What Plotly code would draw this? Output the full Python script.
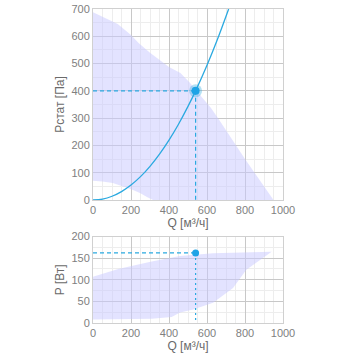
import plotly.graph_objects as go

# ---- data ----
# fan working area (pressure chart)
area_p_upper_q = [0, 50, 130, 200, 240, 300, 400, 460, 510, 560, 620, 660, 800, 950]
area_p_upper_v = [688, 672, 645, 605, 575, 540, 487, 465, 430, 388, 338, 298, 150, 0]
area_p_lower_q = [316, 284, 250, 211, 150, 105, 50, 0]
area_p_lower_v = [0, 11, 25, 37, 52, 62, 68, 71]

# system curve
sys_q = [0, 50, 100, 150, 200, 250, 300, 350, 400, 450, 500, 540, 600, 650, 714]
sys_p = [0, 3.4, 13.7, 30.9, 54.9, 85.7, 123.5, 168.1, 219.5, 277.8, 343.0, 400, 493.8, 579.6, 700]

# fan working area (power chart)
area_w_upper_q = [0, 133, 309, 414, 458, 632, 940]
area_w_upper_v = [107, 125, 142, 150, 155, 161, 165]
area_w_lower_q = [940, 807, 737, 632, 527, 458, 414, 309, 0]
area_w_lower_v = [165, 123, 81, 47, 31, 24, 14, 10, 8]

op_q = 540
op_p = 400
op_w = 162

fill_col = "rgba(200,200,255,0.5)"
blue = "#2aa9e0"

fig = go.Figure()

# top chart
fig.add_trace(go.Scatter(x=area_p_upper_q + area_p_lower_q, y=area_p_upper_v + area_p_lower_v,
                         fill="toself", fillcolor=fill_col, line=dict(width=0), mode="lines",
                         hoverinfo="skip", xaxis="x", yaxis="y"))
fig.add_trace(go.Scatter(x=sys_q, y=sys_p, mode="lines", line=dict(color=blue, width=1.3, shape="spline"),
                         xaxis="x", yaxis="y"))
fig.add_trace(go.Scatter(x=[0, op_q], y=[op_p, op_p], mode="lines", line=dict(color=blue, width=1.2, dash="4px,3px"),
                         xaxis="x", yaxis="y"))
fig.add_trace(go.Scatter(x=[op_q, op_q], y=[op_p, 0], mode="lines", line=dict(color=blue, width=1.2, dash="4px,3px"),
                         xaxis="x", yaxis="y"))
fig.add_trace(go.Scatter(x=[op_q], y=[op_p], mode="markers",
                         marker=dict(color="rgba(42,169,224,0.35)", size=13), xaxis="x", yaxis="y"))
fig.add_trace(go.Scatter(x=[op_q], y=[op_p], mode="markers",
                         marker=dict(color="#1ea3e6", size=8), xaxis="x", yaxis="y"))

# bottom chart
fig.add_trace(go.Scatter(x=area_w_upper_q + area_w_lower_q, y=area_w_upper_v + area_w_lower_v,
                         fill="toself", fillcolor=fill_col, line=dict(width=0), mode="lines",
                         hoverinfo="skip", xaxis="x2", yaxis="y2"))
fig.add_trace(go.Scatter(x=[0, op_q], y=[op_w, op_w], mode="lines", line=dict(color=blue, width=1.2, dash="4px,3px"),
                         xaxis="x2", yaxis="y2"))
fig.add_trace(go.Scatter(x=[op_q, op_q], y=[op_w, 0], mode="lines", line=dict(color=blue, width=1.2, dash="2px,3px"),
                         xaxis="x2", yaxis="y2"))
fig.add_trace(go.Scatter(x=[op_q], y=[op_w], mode="markers",
                         marker=dict(color="#1ea3e6", size=7), xaxis="x2", yaxis="y2"))

tickfont = dict(family="Liberation Sans, Arial, sans-serif", size=11, color="#808080")
titlefont = dict(family="Liberation Sans, Arial, sans-serif", size=12, color="#6a6a6a")

def ax(**kw):
    d = dict(showgrid=True, gridcolor="#c8c8c8", gridwidth=1, zeroline=False,
             showline=True, linecolor="#d0d0d0", linewidth=1, mirror=True,
             ticks="", tickfont=tickfont, title_font=titlefont, fixedrange=True,
             automargin=False, ticklabeloverflow="allow")
    d.update(kw)
    return d

xdom = [93/356, 283/356]
fig.update_layout(
    width=356, height=356,
    margin=dict(l=0, r=0, t=0, b=0),
    paper_bgcolor="white", plot_bgcolor="white",
    showlegend=False,
    xaxis=ax(domain=xdom, range=[0, 1000], dtick=200, anchor="y",
             minor=dict(dtick=50, showgrid=True, gridcolor="#ededed"),
             title=dict(text="Q [м³/ч]", standoff=2)),
    yaxis=ax(domain=[156/356, 347/356], range=[0, 700], dtick=100, anchor="x",
             minor=dict(dtick=50, showgrid=True, gridcolor="#ededed"),
             title=dict(text="Pстат [Па]", standoff=4)),
    xaxis2=ax(domain=xdom, range=[0, 1000], dtick=200, anchor="y2",
              minor=dict(dtick=50, showgrid=True, gridcolor="#ededed"),
              title=dict(text="Q [м³/ч]", standoff=2)),
    yaxis2=ax(domain=[33/356, 119.5/356], range=[0, 200], dtick=50, anchor="x2",
              minor=dict(dtick=25, showgrid=True, gridcolor="#ededed"),
              title=dict(text="P [Вт]", standoff=4)),
)

fig.write_html("out.html", config={"displayModeBar": False},
               post_script="document.body.style.margin='0';")
